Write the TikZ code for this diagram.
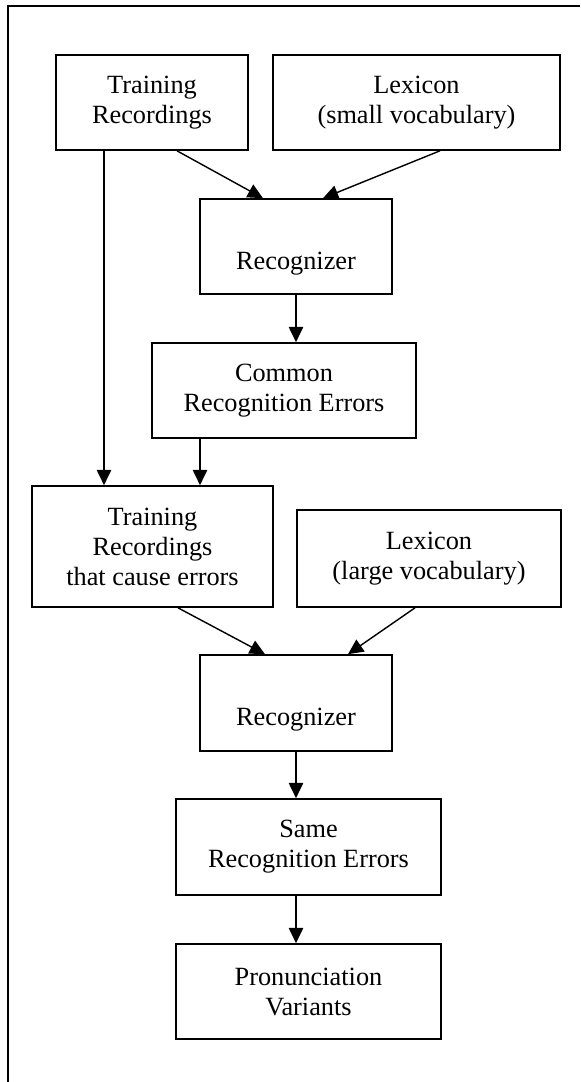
\documentclass[tikz,border=0pt]{standalone}
\usepackage{fontspec}
\setmainfont{Liberation Serif}
\usetikzlibrary{arrows.meta,calc}

\begin{document}
\begin{tikzpicture}[
  x=0.46pt, y=-0.46pt,
  font=\fontsize{12.1pt}{13.8pt}\selectfont,
  stage/.style={draw, line width=0.75pt, inner sep=0pt, align=center,
                minimum height=95*0.46pt},
  flow/.style={line width=0.65pt, -{Triangle[length=7pt,width=6.6pt]}}
]
\useasboundingbox (0,0) rectangle (580,1082);

% open frame: top and left edges only
\coordinate (fbl) at (8,1082);
\coordinate (ftl) at (8,6);
\coordinate (ftr) at (580,6);
\draw[line width=0.75pt] (fbl) -- (ftl) -- (ftr);

% first pass: small vocabulary
\node[stage, minimum width=192*0.46pt] (tr)   at (152,102.5) {Training\\Recordings};
\node[stage, minimum width=287*0.46pt] (lexs) at (416.5,102.5) {Lexicon\\(small vocabulary)};
\node[stage, minimum width=192*0.46pt] (rec1) at (296,246.5) {\strut\\Recognizer};
\node[stage, minimum width=264*0.46pt] (cre)  at (284,390.5) {Common\\Recognition Errors};

% second pass: large vocabulary
\node[stage, minimum width=241*0.46pt, minimum height=121*0.46pt] (tre) at (152.5,546.5)
  {Training\\Recordings\\that cause errors};
\node[stage, minimum width=264*0.46pt, minimum height=97*0.46pt] (lexl) at (429,558.5)
  {Lexicon\\(large vocabulary)};
\node[stage, minimum width=192*0.46pt, minimum height=96*0.46pt] (rec2) at (296,703) {\strut\\Recognizer};
\node[stage, minimum width=265*0.46pt, minimum height=96*0.46pt] (sre)  at (308.5,847) {Same\\Recognition Errors};
\node[stage, minimum width=265*0.46pt] (pv) at (308.5,991.5) {Pronunciation\\Variants};

% connectors
\draw[flow] ($(tr.south)+(25,0)$) -- ($(rec1.north)+(-33,0)$);
\draw[flow] ($(lexs.south)+(23.5,0)$) -- ($(rec1.north)+(27,0)$);
\draw[flow] (rec1.south) -- (rec1.south |- cre.north);

\coordinate (trdrop) at ($(tr.south)+(-48,0)$);
\draw[flow] (trdrop) -- (trdrop |- tre.north);
\coordinate (credrop) at ($(cre.south)+(-84,0)$);
\draw[flow] (credrop) -- (credrop |- tre.north);

\draw[flow] ($(tre.south)+(25.5,0)$) -- ($(rec2.north)+(-31,0)$);
\draw[flow] ($(lexl.south)+(-14,0)$) -- ($(rec2.north)+(52,0)$);
\draw[flow] (rec2.south) -- (rec2.south |- sre.north);
\draw[flow] (rec2.south |- sre.south) -- (rec2.south |- pv.north);
\end{tikzpicture}
\end{document}
